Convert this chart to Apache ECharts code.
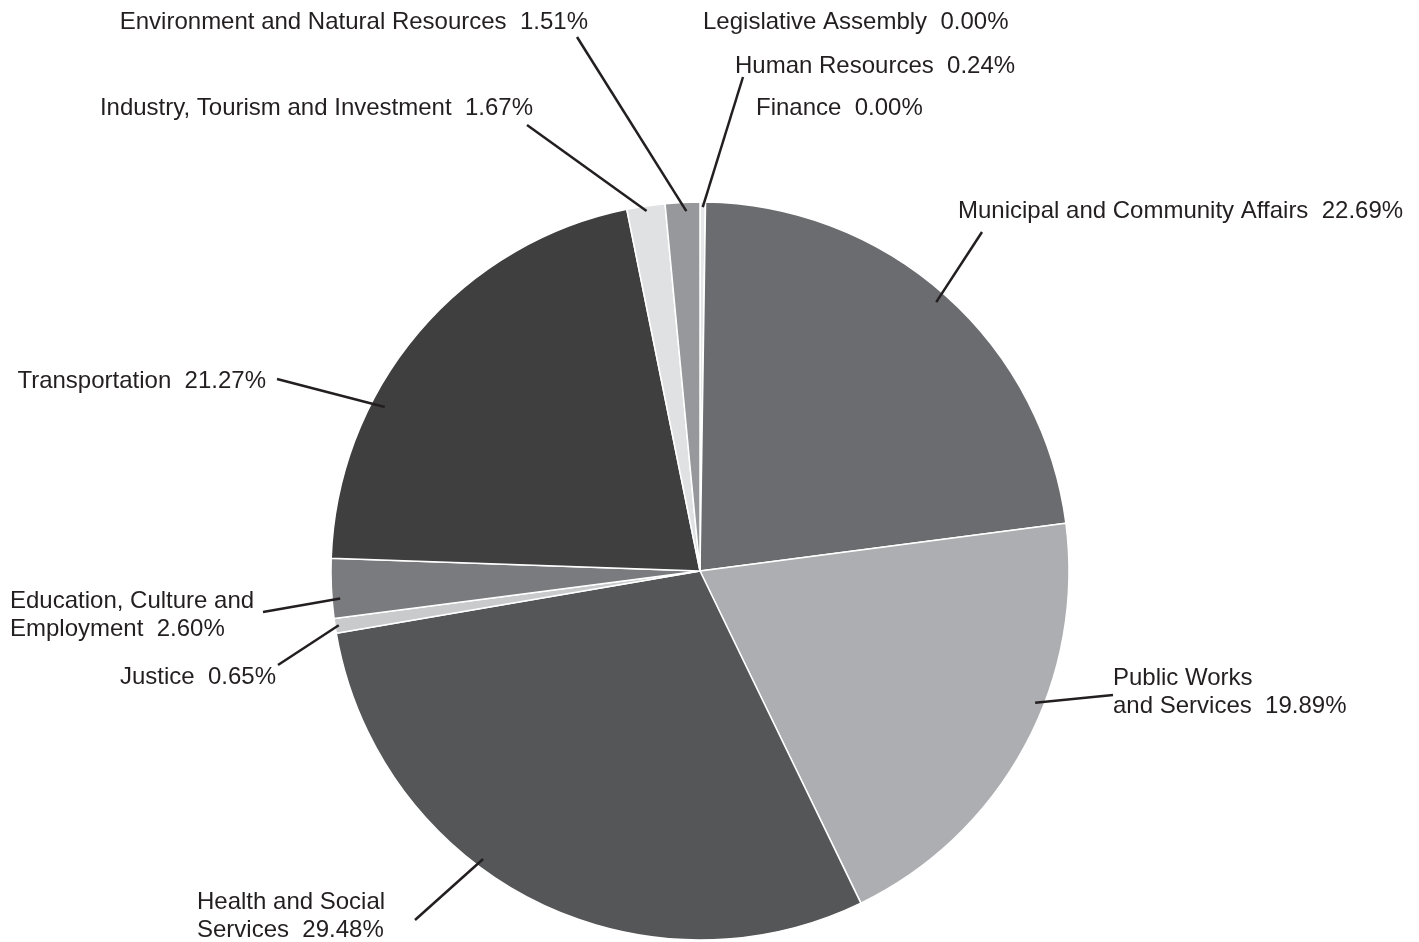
<!DOCTYPE html>
<html>
<head>
<meta charset="utf-8">
<script src="https://cdn.jsdelivr.net/npm/echarts@6/dist/echarts.min.js"></script>
<style>
html,body{margin:0;padding:0;background:#ffffff;}
#chart{width:1419px;height:942px;}
</style>
</head>
<body>
<div id="chart"></div>
<script>
// ---- data ----
const departments = [
  'Legislative Assembly',
  'Human Resources',
  'Finance',
  'Municipal and Community Affairs',
  'Public Works\nand Services',
  'Health and Social\nServices',
  'Justice',
  'Education, Culture and\nEmployment',
  'Transportation',
  'Industry, Tourism and Investment',
  'Environment and Natural Resources'
];
const shares = [0.00, 0.24, 0.00, 22.69, 19.89, 29.48, 0.65, 2.60, 21.27, 1.67, 1.51];

// ---- style ----
const sliceColors = ['#d9dadc', '#e6e7e9', '#d9dadc', '#6b6c6f', '#adaeb1', '#555658',
                     '#c9cacc', '#7a7b7e', '#3f3f40', '#e0e1e3', '#97989b'];
// label anchor [x, y, align]
const labelPos = [
  [703, 22, 'left'],
  [735, 66, 'left'],
  [756, 108, 'left'],
  [958, 211, 'left'],
  [1113, 692, 'left'],
  [197, 916, 'left'],
  [276, 677, 'right'],
  [10, 615, 'left'],
  [266, 381, 'right'],
  [533, 108, 'right'],
  [588, 22, 'right']
];
// leader line start, relative to the label anchor (null = no line)
const lineStart = [
  null, [8, 11], null, [24, 21], [0, 3], [218, 4], [2, -12], [253, -3], [11, -2], [-6, 17], [-11, 15]
];
// where the leader line touches its slice: [fraction along the slice's arc, fraction of radius]
const lineAnchor = [
  null, [0.5, 0.986], null, [0.495, 0.970], [0.404, 0.976], [0.592, 0.977],
  [0.5, 0.99], [0.32, 0.978], [0.333, 0.963], [0.5, 0.986], [0.6, 0.976]
];
const CX = 700, CY = 571, R = 369;
const TEXT = '#231f20';

const total = shares.reduce((a, b) => a + b, 0);
const sliceRange = [];
let acc = 0;
shares.forEach(v => { const s = acc / total * 360; acc += v; sliceRange.push([s, acc / total * 360]); });

const common = {
  type: 'pie',
  center: [CX, CY],
  radius: R,
  startAngle: 90,
  clockwise: true,
  avoidLabelOverlap: false
};

const chart = echarts.init(document.getElementById('chart'), null, {renderer: 'canvas'});
chart.setOption({
  backgroundColor: '#ffffff',
  animation: false,
  series: [
    Object.assign({}, common, {
      z: 2,
      itemStyle: {borderColor: '#ffffff', borderWidth: 1.5},
      label: {show: false},
      labelLine: {show: false},
      data: departments.map((name, i) => ({name: name, value: shares[i], itemStyle: {color: sliceColors[i]}}))
    }),
    Object.assign({}, common, {
      z: 5,
      silent: true,
      itemStyle: {color: 'rgba(0,0,0,0)', borderWidth: 0},
      label: {
        show: true,
        position: 'outside',
        color: TEXT,
        fontFamily: '"Liberation Sans", Arial, Helvetica, sans-serif',
        fontSize: 24,
        lineHeight: 28,
        formatter: p => p.name + '  ' + p.value.toFixed(2) + '%'
      },
      labelLine: {show: true, showAbove: true, length: 10, length2: 10, lineStyle: {color: TEXT, width: 2.5}},
      labelLayout: function (params) {
        const i = params.dataIndex;
        const p = labelPos[i];
        const res = {x: p[0], y: p[1], align: p[2], verticalAlign: 'middle'};
        const ls = lineStart[i];
        if (ls) {
          const ex = p[0] + ls[0], ey = p[1] + ls[1];
          const [s, e] = sliceRange[i];
          const [f, rf] = lineAnchor[i];
          const rad = (s + (e - s) * f) * Math.PI / 180;
          const ax = CX + Math.sin(rad) * R * rf;
          const ay = CY - Math.cos(rad) * R * rf;
          res.labelLinePoints = [[ex, ey], [ax, ay]];
        }
        return res;
      },
      data: departments.map((name, i) => ({
        name: name,
        value: shares[i],
        labelLine: {show: lineStart[i] !== null}
      }))
    })
  ]
});
</script>
</body>
</html>
